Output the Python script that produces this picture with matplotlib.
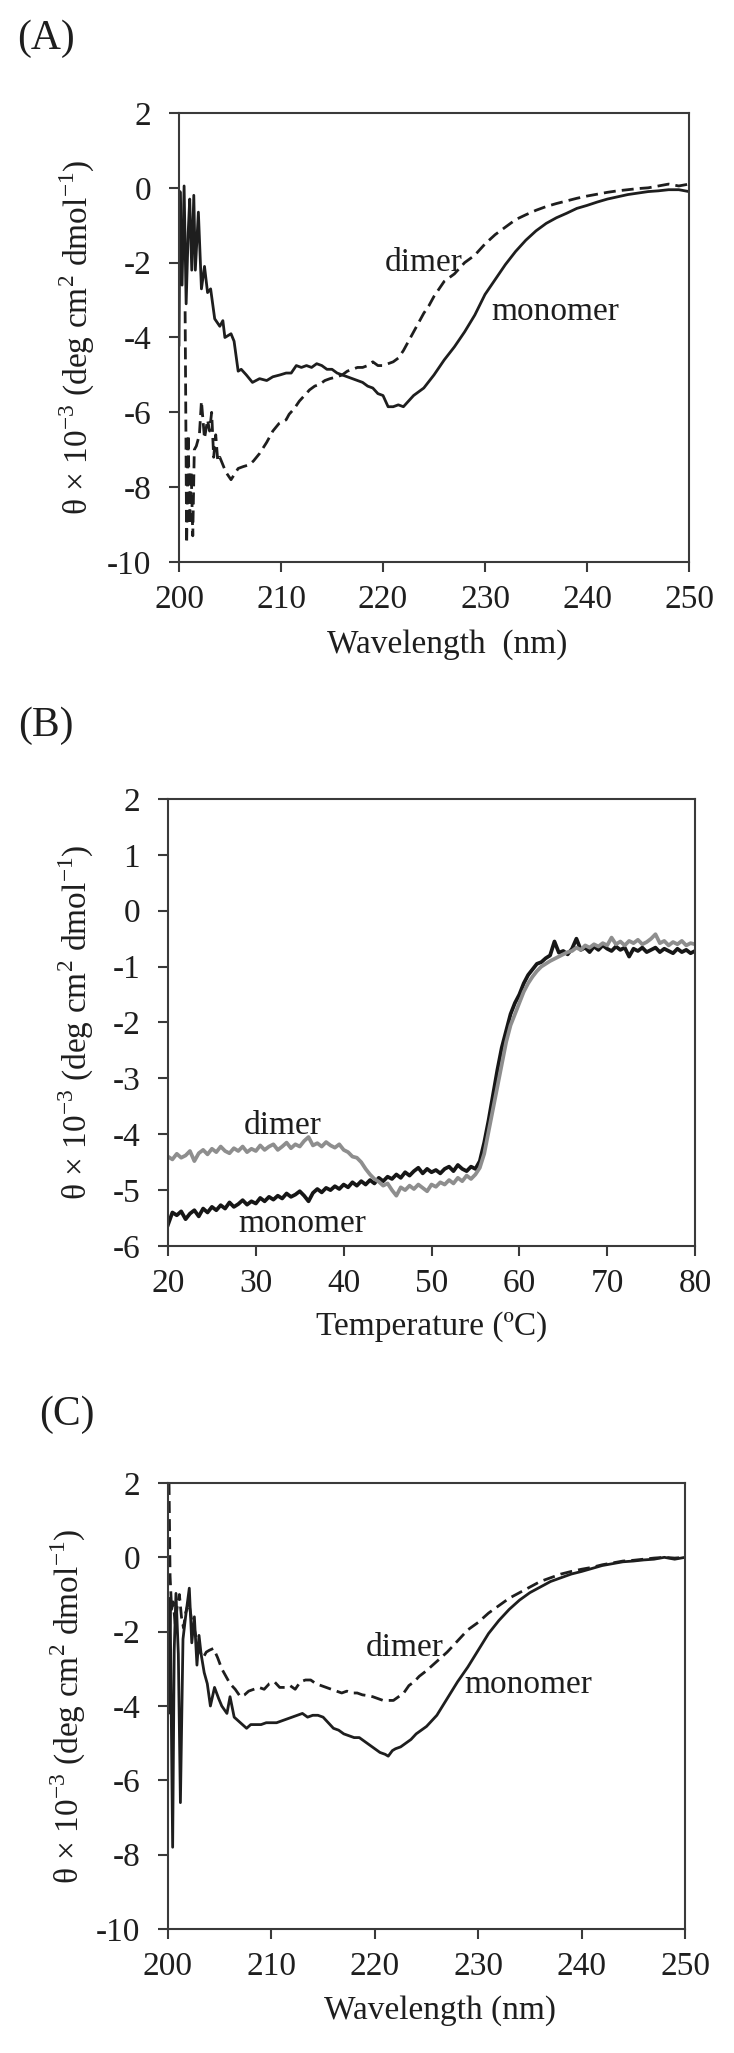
import matplotlib
matplotlib.use("Agg")
import matplotlib.pyplot as plt

plt.rcParams['font.family'] = ['Liberation Serif', 'DejaVu Serif']
plt.rcParams['axes.unicode_minus'] = False
plt.rcParams['mathtext.fontset'] = 'custom'
plt.rcParams['mathtext.rm'] = 'Liberation Serif'

# ---------------- panel A : far-UV CD spectra ----------------
a_mono_wl = [200.0, 200.1, 200.3, 200.5, 200.7, 200.9, 201.05, 201.25, 201.45, 201.6,
             201.9, 202.2, 202.5, 202.8, 203.1, 203.5, 204.0, 204.3, 204.5, 205.1,
             205.4, 205.8, 206.1, 206.6, 207.2, 207.9, 208.6, 209.2, 209.9, 210.5,
             211.0, 211.5, 212.0, 212.5, 213.0, 213.5, 214.0, 214.5, 215.0, 215.5,
             216.0, 216.5, 217.0, 217.5, 218.0, 218.5, 219.0, 219.5, 220.0, 220.5,
             221.0, 221.5, 222.0, 222.5, 223.0, 223.5, 224.0, 225.0, 226.0, 227.0,
             228.0, 229.0, 230.0, 231.0, 232.0, 233.0, 234.0, 235.0, 236.0, 237.0,
             238.0, 239.0, 240.0, 241.0, 242.0, 243.0, 244.0, 245.0, 246.0, 247.0,
             248.0, 249.0, 250.0]
a_mono = [-4.2, -0.1, -2.6, 0.05, -3.1, -1.2, -0.3, -2.2, -0.2, -2.2,
          -0.65, -2.7, -2.1, -2.8, -2.7, -3.5, -3.7, -3.55, -4.0, -3.9,
          -4.1, -4.9, -4.85, -5.0, -5.2, -5.1, -5.15, -5.05, -5.0, -4.95,
          -4.95, -4.75, -4.8, -4.75, -4.8, -4.7, -4.75, -4.85, -4.85, -4.95,
          -5.0, -5.05, -5.1, -5.15, -5.2, -5.3, -5.35, -5.5, -5.55, -5.85,
          -5.85, -5.8, -5.85, -5.7, -5.55, -5.45, -5.35, -5.0, -4.6, -4.25,
          -3.85, -3.4, -2.85, -2.45, -2.05, -1.7, -1.4, -1.15, -0.95, -0.8,
          -0.68, -0.55, -0.47, -0.38, -0.3, -0.24, -0.18, -0.14, -0.1, -0.08,
          -0.05, -0.05, -0.1]

a_dim_wl = [200.6, 200.75, 200.9, 201.05, 201.2, 201.35, 201.5, 201.7, 202.0, 202.2,
            202.5, 202.8, 203.0, 203.2, 203.4, 203.6, 203.8, 204.0, 204.3, 204.6,
            205.1, 205.8, 206.3, 206.9, 207.3, 207.9, 208.6, 209.2, 209.8, 210.5,
            210.8, 211.3, 211.8, 212.3, 212.8, 213.3, 213.8, 214.3, 214.8,
            215.5, 216.0, 216.5, 217.0, 217.5, 218.0, 218.5, 219.0, 219.5, 220.0,
            220.5, 221.0, 221.5, 222.0, 222.5, 223.0, 223.5, 224.0, 224.5, 225.0,
            225.5, 226.0, 226.5, 227.0, 227.5, 228.0, 229.0, 230.0, 231.0, 232.0,
            233.0, 234.0, 235.0, 236.0, 237.0, 238.0, 239.0, 240.0, 241.0, 242.0,
            243.0, 244.0, 245.0, 246.0, 247.0, 248.0, 249.0, 250.0]
a_dim = [-3.3, -9.5, -6.6, -9.0, -7.6, -9.3, -7.0, -6.9, -6.6, -5.7,
         -6.7, -6.2, -6.5, -6.0, -7.2, -6.6, -7.3, -7.2, -7.4, -7.6,
         -7.8, -7.5, -7.45, -7.4, -7.3, -7.1, -6.8, -6.5, -6.3, -6.2,
         -6.05, -5.9, -5.7, -5.55, -5.4, -5.3, -5.25, -5.15, -5.1,
         -5.05, -5.0, -4.9, -4.85, -4.8, -4.8, -4.75, -4.65, -4.75, -4.75,
         -4.7, -4.65, -4.55, -4.35, -4.1, -3.85, -3.6, -3.35, -3.15, -2.9,
         -2.7, -2.5, -2.4, -2.3, -2.15, -2.0, -1.8, -1.5, -1.25, -1.05,
         -0.85, -0.72, -0.6, -0.5, -0.42, -0.35, -0.28, -0.22, -0.17, -0.12,
         -0.08, -0.05, -0.02, 0.0, 0.05, 0.1, 0.05, 0.1]

# ---------------- panel B : thermal melt at 222 nm ----------------
b_temp = [20 + 0.5 * i for i in range(121)]
b_mono = [-5.62, -5.40, -5.45, -5.38, -5.52, -5.42, -5.36, -5.47, -5.33, -5.40,
          -5.30, -5.36, -5.27, -5.33, -5.22, -5.30, -5.25, -5.18, -5.26, -5.20,
          -5.24, -5.14, -5.20, -5.12, -5.17, -5.10, -5.15, -5.06, -5.12, -5.08,
          -5.02, -5.10, -5.20, -5.05, -4.98, -5.04, -4.96, -5.00, -4.93, -4.98,
          -4.90, -4.95, -4.86, -4.92, -4.84, -4.90, -4.82, -4.88, -4.78, -4.84,
          -4.76, -4.80, -4.72, -4.78, -4.68, -4.74, -4.66, -4.60, -4.70, -4.62,
          -4.68, -4.64, -4.70, -4.62, -4.58, -4.66, -4.55, -4.62, -4.66, -4.58,
          -4.62, -4.48, -4.15, -3.75, -3.30, -2.85, -2.45, -2.15, -1.85, -1.65,
          -1.50, -1.30, -1.15, -1.05, -0.95, -0.92, -0.85, -0.80, -0.55, -0.75,
          -0.72, -0.78, -0.68, -0.50, -0.70, -0.66, -0.74, -0.64, -0.70, -0.62,
          -0.68, -0.72, -0.64, -0.70, -0.66, -0.82, -0.68, -0.72, -0.66, -0.74,
          -0.70, -0.66, -0.74, -0.68, -0.72, -0.76, -0.68, -0.74, -0.70, -0.76,
          -0.72]
b_dim = [-4.40, -4.45, -4.35, -4.42, -4.38, -4.30, -4.48, -4.34, -4.28, -4.36,
         -4.26, -4.32, -4.22, -4.30, -4.34, -4.25, -4.30, -4.22, -4.32, -4.26,
         -4.30, -4.20, -4.28, -4.22, -4.18, -4.28, -4.22, -4.15, -4.25, -4.18,
         -4.22, -4.12, -4.05, -4.20, -4.16, -4.22, -4.14, -4.20, -4.24, -4.18,
         -4.28, -4.32, -4.40, -4.42, -4.50, -4.62, -4.72, -4.80, -4.85, -4.92,
         -4.88, -5.00, -5.10, -4.95, -5.00, -4.92, -4.98, -4.90, -4.96, -5.02,
         -4.90, -4.94, -4.86, -4.90, -4.82, -4.88, -4.78, -4.84, -4.74, -4.80,
         -4.72, -4.60, -4.35, -3.95, -3.55, -3.15, -2.75, -2.35, -2.05, -1.85,
         -1.65, -1.45, -1.30, -1.18, -1.08, -1.00, -0.95, -0.90, -0.86, -0.82,
         -0.78, -0.74, -0.72, -0.66, -0.70, -0.62, -0.66, -0.60, -0.64, -0.58,
         -0.62, -0.48, -0.60, -0.55, -0.62, -0.54, -0.58, -0.52, -0.60, -0.56,
         -0.50, -0.42, -0.58, -0.54, -0.62, -0.56, -0.60, -0.54, -0.62, -0.58,
         -0.60]

# ---------------- panel C : far-UV CD spectra ----------------
c_mono_wl = [200.0, 200.05, 200.2, 200.45, 200.6, 200.77, 201.0, 201.2, 201.45, 201.7,
             202.06, 202.3, 202.55, 202.8, 203.0, 203.2, 203.5, 203.8, 204.1, 204.5,
             204.9, 205.2, 205.7, 206.0, 206.4, 206.8, 207.2, 207.6, 208.0, 208.5,
             209.0, 209.5, 210.0, 210.5, 211.0, 211.5, 212.0, 212.5, 213.0, 213.5,
             214.0, 214.5, 215.0, 215.5, 216.0, 216.5, 217.0, 217.5, 218.0, 218.5,
             219.0, 219.5, 220.0, 220.5, 221.0, 221.3, 221.7, 222.0, 222.5, 223.0,
             223.5, 224.0, 225.0, 226.0, 227.0, 228.0, 229.0, 230.0, 231.0, 232.0,
             233.0, 234.0, 235.0, 236.0, 237.0, 238.0, 239.0, 240.0, 241.0, 242.0,
             243.0, 244.0, 245.0, 246.0, 247.0, 248.0, 249.0, 250.0]
c_mono = [-2.5, -4.2, -1.1, -7.8, -2.5, -0.97, -2.6, -6.6, -2.2, -1.6,
          -0.83, -2.3, -1.6, -2.9, -2.1, -2.6, -3.1, -3.4, -4.0, -3.5,
          -3.8, -4.0, -4.2, -3.75, -4.3, -4.4, -4.5, -4.6, -4.5, -4.5,
          -4.5, -4.45, -4.45, -4.45, -4.4, -4.35, -4.3, -4.25, -4.2, -4.3,
          -4.25, -4.25, -4.3, -4.45, -4.6, -4.65, -4.75, -4.8, -4.85, -4.85,
          -4.95, -5.05, -5.15, -5.25, -5.3, -5.35, -5.2, -5.15, -5.1, -5.0,
          -4.9, -4.75, -4.55, -4.25, -3.8, -3.35, -2.95, -2.5, -2.05, -1.7,
          -1.4, -1.15, -0.95, -0.8, -0.65, -0.55, -0.45, -0.38, -0.3, -0.22,
          -0.17, -0.12, -0.1, -0.07, -0.05, 0.0, -0.05, 0.0]

c_dim_wl = [200.1, 200.2, 200.35, 200.5, 200.7, 200.9, 201.1, 201.3, 201.5, 201.7,
            202.0, 202.3, 202.6, 203.0, 203.4, 203.7, 204.0, 204.4, 204.8, 205.2,
            205.6, 206.0, 206.5, 207.0, 207.4, 207.8, 208.3, 208.8, 209.3, 209.8,
            210.3, 210.8, 211.3, 211.8, 212.3, 212.8, 213.3, 213.8, 214.3, 214.8,
            215.3, 215.8, 216.3, 216.8, 217.3, 217.8, 218.3, 218.8, 219.3, 219.8,
            220.3, 220.8, 221.3, 221.8, 222.3, 222.8, 223.3, 223.8, 224.3, 225.0,
            226.0, 227.0, 228.0, 229.0, 230.0, 231.0, 232.0, 233.0, 234.0, 235.0,
            236.0, 237.0, 238.0, 239.0, 240.0, 241.0, 242.0, 243.0, 244.0, 245.0,
            246.0, 247.0, 248.0, 249.0, 250.0]
c_dim = [2.0, -0.5, -1.4, -1.2, -1.8, -1.3, -1.0, -1.6, -1.9, -1.5,
         -1.2, -1.7, -2.0, -2.5, -2.7, -2.55, -2.5, -2.45, -2.7, -3.0,
         -3.2, -3.4, -3.55, -3.75, -3.7, -3.6, -3.55, -3.5, -3.55, -3.4,
         -3.35, -3.5, -3.5, -3.45, -3.55, -3.35, -3.3, -3.3, -3.4, -3.45,
         -3.5, -3.55, -3.6, -3.65, -3.6, -3.65, -3.65, -3.7, -3.72, -3.75,
         -3.8, -3.85, -3.85, -3.85, -3.75, -3.65, -3.45, -3.35, -3.2, -3.05,
         -2.8, -2.55, -2.25, -1.95, -1.75, -1.5, -1.3, -1.1, -0.95, -0.8,
         -0.65, -0.55, -0.45, -0.38, -0.32, -0.27, -0.2, -0.15, -0.1, -0.08,
         -0.05, -0.02, 0.0, -0.02, 0.0]

YLABEL = "θ × 10$^{-3}$ (deg cm$^{2}$ dmol$^{-1}$)"
FS = 24
INK = "#1e1e1e"
DASH = (0, (4.3, 2.2))

W, H = 734, 2053
fig = plt.figure(figsize=(W / 100, H / 100), dpi=100)


def px_axes(left, top, right, bottom):
    return fig.add_axes([left / W, 1 - bottom / H, (right - left) / W, (bottom - top) / H])


def style(ax, xlim, ylim, xticks, yticks):
    ax.set_xlim(*xlim)
    ax.set_ylim(*ylim)
    ax.set_xticks(xticks)
    ax.set_yticks(yticks)
    for s in ax.spines.values():
        s.set_linewidth(1.5)
        s.set_color("#3a3a3a")
    ax.tick_params(direction="out", length=7, width=1.5, color="#3a3a3a",
                   labelsize=FS, labelcolor=INK, top=False, right=False)
    ax.tick_params(axis="y", pad=13)
    ax.tick_params(axis="x", pad=9)


# panel A
axA = px_axes(179, 113, 689, 562)
axA.plot(a_mono_wl, a_mono, color=INK, lw=2.0)
axA.plot(a_dim_wl, a_dim, color=INK, lw=2.0, linestyle=DASH)
style(axA, (200, 250), (-10, 2), range(200, 251, 10), range(-10, 3, 2))
axA.set_xlabel("Wavelength  (nm)", fontsize=FS, color=INK, va="center")
axA.xaxis.set_label_coords(0.525, -0.183)
axA.set_ylabel(YLABEL, fontsize=FS, color=INK, va="center")
axA.yaxis.set_label_coords(-0.2, 0.5)
axA.text(220.2, -2.0, "dimer", fontsize=FS, color=INK, va="center")
axA.text(230.6, -3.3, "monomer", fontsize=FS, color=INK, va="center")

# panel B
axB = px_axes(168, 799, 695, 1246)
axB.plot(b_temp, b_mono, color="#161616", lw=2.7)
axB.plot(b_temp, b_dim, color="#8e8e8e", lw=2.7)
style(axB, (20, 80), (-6, 2), range(20, 81, 10), range(-6, 3, 1))
axB.set_xlabel("Temperature (ºC)", fontsize=FS, color=INK, va="center")
axB.xaxis.set_label_coords(0.5, -0.181)
axB.set_ylabel(YLABEL, fontsize=FS, color=INK, va="center")
axB.yaxis.set_label_coords(-0.173, 0.5)
axB.text(28.6, -3.85, "dimer", fontsize=FS, color=INK, va="center")
axB.text(28.0, -5.6, "monomer", fontsize=FS, color=INK, va="center")

# panel C
axC = px_axes(168, 1483, 685, 1929)
axC.plot(c_mono_wl, c_mono, color=INK, lw=2.0)
axC.plot(c_dim_wl, c_dim, color=INK, lw=2.0, linestyle=DASH)
style(axC, (200, 250), (-10, 2), range(200, 251, 10), range(-10, 3, 2))
axC.set_xlabel("Wavelength (nm)", fontsize=FS, color=INK, va="center")
axC.xaxis.set_label_coords(0.526, -0.182)
axC.set_ylabel(YLABEL, fontsize=FS, color=INK, va="center")
axC.yaxis.set_label_coords(-0.193, 0.5)
axC.text(219.1, -2.42, "dimer", fontsize=FS, color=INK, va="center")
axC.text(228.7, -3.42, "monomer", fontsize=FS, color=INK, va="center")

# panel letters
for lab, x, y in [("(A)", 17, 39), ("(B)", 18, 726), ("(C)", 39, 1415)]:
    fig.text(x / W, 1 - y / H, lab, fontsize=30, color=INK, ha="left", va="center")

fig.savefig("out.png", dpi=100)
